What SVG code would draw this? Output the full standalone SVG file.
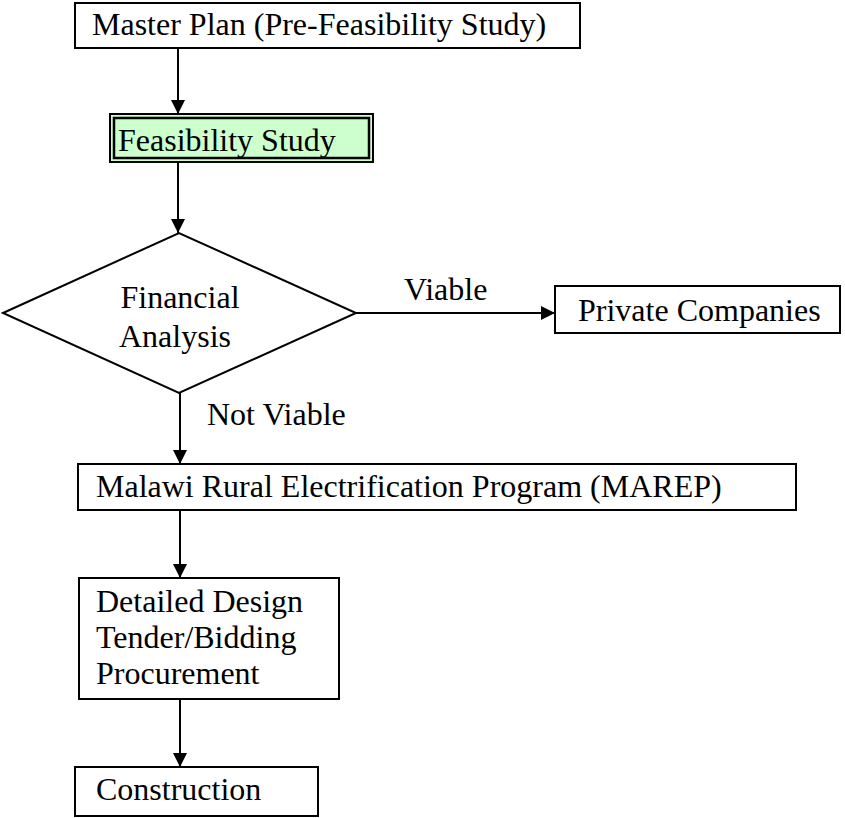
<svg xmlns="http://www.w3.org/2000/svg" width="845" height="818" viewBox="0 0 845 818">
<style>
.box{fill:#fff;stroke:#000;stroke-width:2}
.t{font-family:"Liberation Serif","Times New Roman",serif;font-size:32px;fill:#000}
.c{stroke:#000;stroke-width:2;fill:none}
</style>
<defs>
<marker id="ah" viewBox="0 0 14 14" refX="14" refY="7" markerWidth="14" markerHeight="14" markerUnits="userSpaceOnUse" orient="auto">
<path d="M0,0 L14,7 L0,14 Z" fill="#000"/>
</marker>
</defs>
<rect width="845" height="818" fill="#fff"/>
<g id="connectors">
<line class="c" x1="178" y1="48" x2="178" y2="114" marker-end="url(#ah)"/>
<line class="c" x1="178" y1="162" x2="178" y2="233" marker-end="url(#ah)"/>
<line class="c" x1="356" y1="313" x2="555" y2="313" marker-end="url(#ah)"/>
<line class="c" x1="180" y1="393" x2="180" y2="464" marker-end="url(#ah)"/>
<line class="c" x1="180" y1="510" x2="180" y2="578" marker-end="url(#ah)"/>
<line class="c" x1="180" y1="699" x2="180" y2="767" marker-end="url(#ah)"/>
<text class="t" x="404" y="300">Viable</text>
<text class="t" x="207" y="425">Not Viable</text>
</g>
<g id="master">
<rect class="box" x="75" y="3" width="505" height="45"/>
<text class="t" x="92" y="35">Master Plan (Pre-Feasibility Study)</text>
</g>
<g id="feasibility">
<rect x="110" y="114" width="263" height="48" fill="#ccffcc" stroke="#000" stroke-width="2"/>
<rect x="114" y="118" width="255" height="40" fill="none" stroke="#000" stroke-width="2.5"/>
<text class="t" x="118" y="151">Feasibility Study</text>
</g>
<g id="financial">
<polygon class="box" points="3,313 179,233 356,313 179,393"/>
<text class="t" x="180" y="308" text-anchor="middle">Financial</text>
<text class="t" x="175" y="347" text-anchor="middle">Analysis</text>
</g>
<g id="private">
<rect class="box" x="555" y="286" width="285" height="47"/>
<text class="t" x="578" y="321">Private Companies</text>
</g>
<g id="marep">
<rect class="box" x="78" y="464" width="718" height="46"/>
<text class="t" x="96" y="497">Malawi Rural Electrification Program (MAREP)</text>
</g>
<g id="design">
<rect class="box" x="79" y="578" width="260" height="121"/>
<text class="t" x="96" y="612">Detailed Design</text>
<text class="t" x="96" y="648">Tender/Bidding</text>
<text class="t" x="96" y="684">Procurement</text>
</g>
<g id="construction">
<rect class="box" x="75" y="767" width="243" height="49"/>
<text class="t" x="96" y="800">Construction</text>
</g>
</svg>
